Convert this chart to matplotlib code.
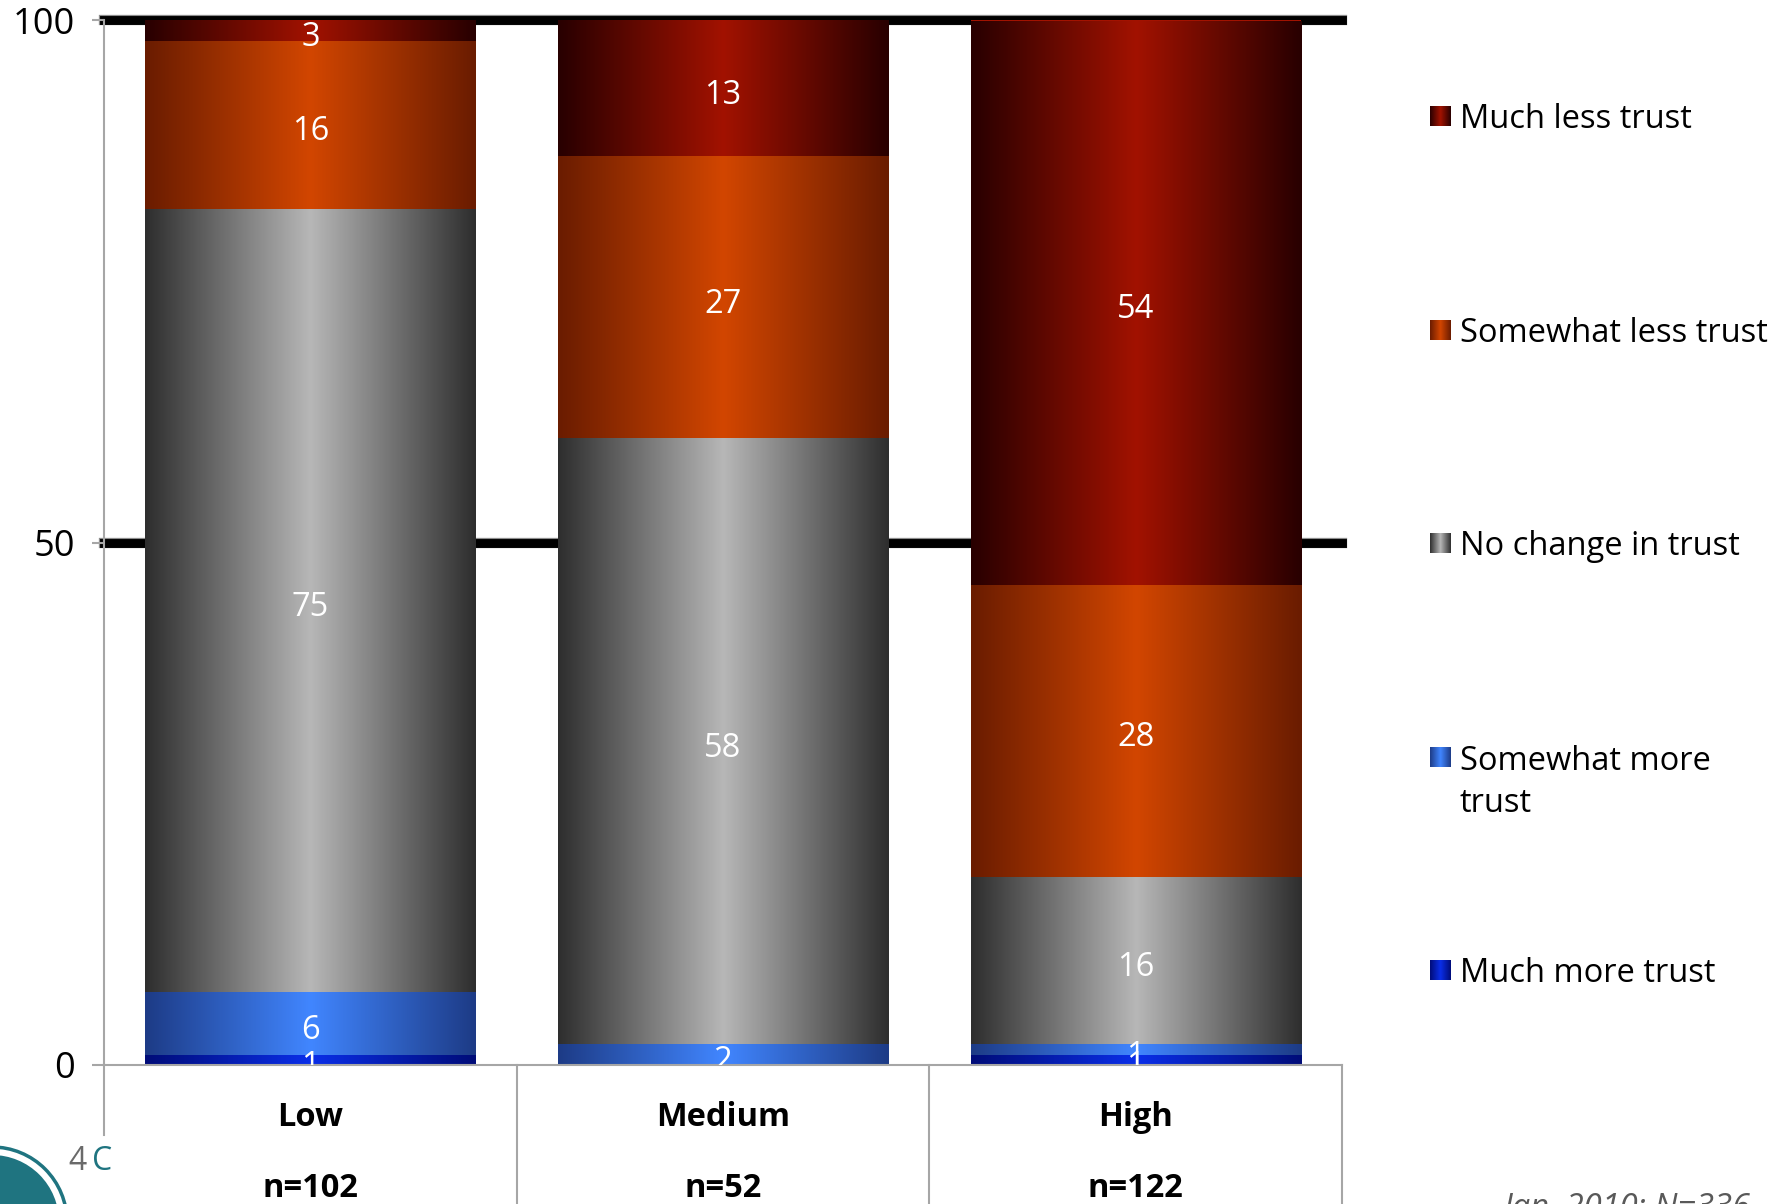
import numpy as np
import matplotlib.pyplot as plt
from matplotlib.colors import LinearSegmentedColormap
from matplotlib.patches import Circle

plt.rcParams['font.family'] = ['Open Sans', 'DejaVu Sans']

categories = ['Low', 'Medium', 'High']
sample_sizes = ['n=102', 'n=52', 'n=122']
series = ['Much more trust', 'Somewhat more trust', 'No change in trust',
          'Somewhat less trust', 'Much less trust']
legend_labels = ['Much more trust', 'Somewhat more\ntrust', 'No change in trust',
                 'Somewhat less trust', 'Much less trust']
much_more = [1, 0, 1]
somewhat_more = [6, 2, 1]
no_change = [75, 58, 16]
somewhat_less = [16, 27, 28]
much_less = [3, 13, 54]
values = [much_more, somewhat_more, no_change, somewhat_less, much_less]

edge_colors = ['#000c78', '#1d3b86', '#2e2e2e', '#6a1c00', '#280000']
mid_colors = ['#0a2ee8', '#4186ff', '#b7b7b7', '#d24600', '#a21200']

W, H = 1786, 1204
fig = plt.figure(figsize=(W / 100, H / 100), dpi=100)
ax = fig.add_axes([104 / W, 139 / H, 1238 / W, 1044.5 / H])

grad = np.linspace(0, 1, 256)[None, :]
x = np.arange(len(categories))
bottom = np.zeros(len(categories))

for i, name in enumerate(series):
    vals = np.array(values[i], dtype=float)
    cmap = LinearSegmentedColormap.from_list(name, [edge_colors[i], mid_colors[i], edge_colors[i]])
    bars = ax.bar(x, vals, 0.8, bottom=bottom, color=mid_colors[i], linewidth=0, zorder=2)
    for j, p in enumerate(bars.patches):
        if vals[j] <= 0:
            continue
        top = min(bottom[j] + vals[j], 100)
        im = ax.imshow(grad, cmap=cmap, aspect='auto', zorder=2.5,
                       extent=[p.get_x(), p.get_x() + p.get_width(), p.get_y(), top])
        im.set_clip_path(p)
        ax.annotate(f'{int(vals[j])}', (x[j], (bottom[j] + top) / 2),
                    xytext=(0, -5), textcoords='offset points', color='white',
                    ha='center', va='center', fontsize=23.5, zorder=4,
                    annotation_clip=False, clip_on=True)
    bottom += vals

# thick gridlines, drawn behind the bars
for yv in [50, 100]:
    ax.axhline(yv, color='#8c8c8c', lw=7.4, zorder=0.9, clip_on=False)
    ax.axhline(yv, color='black', lw=6.4, zorder=1, clip_on=False)

ax.set_xlim(-0.5, 2.5)
ax.set_ylim(0, 100)
ax.set_yticks([0, 50, 100])
ax.set_xticks([])
for s in ['top', 'right']:
    ax.spines[s].set_visible(False)
for s in ['left', 'bottom']:
    ax.spines[s].set_color('#a6a6a6')
    ax.spines[s].set_linewidth(1.5)
ax.tick_params(axis='y', length=9, width=1.5, color='#a6a6a6', labelsize=26, pad=12)

# category separators and labels
xt = ax.get_xaxis_transform()
for k, b in enumerate(np.arange(-0.5, len(categories))):
    depth = -0.067 if k == 0 else -0.15
    ax.plot([b, b], [0, depth], transform=xt, color='#a6a6a6', lw=1.5, clip_on=False)
for i, cat in enumerate(categories):
    ax.text(i, -0.05, cat, transform=xt, ha='center', va='center',
            fontsize=23.5, fontweight='bold')
    ax.text(i, -0.118, sample_sizes[i], transform=xt, ha='center', va='center',
            fontsize=23.5, fontweight='bold')

# legend drawn by hand so the keys keep the gradient
leg_y = [970, 757, 543, 330, 116]
for i, name in enumerate(series):
    cmap = LinearSegmentedColormap.from_list(name + 'k', [edge_colors[i], mid_colors[i], edge_colors[i]])
    yc = leg_y[i]
    kax = fig.add_axes([1430 / W, (H - yc - 10) / H, 21 / W, 20 / H])
    kax.imshow(grad, cmap=cmap, aspect='auto')
    kax.axis('off')
    for k, line in enumerate(legend_labels[i].split('\n')):
        fig.text(1460 / W, (H - yc - 4 - k * 43) / H, line, va='center', ha='left', fontsize=23.5)

# footnote, cut by the lower edge
fig.text(1503 / W, -13 / H, 'Jan. 2010; N=336', fontsize=23.5, style='italic',
         color='#595959', va='baseline')

# logo in the corner
fig.patches.append(Circle((-8, H - 1222), 75, transform=None, facecolor='none',
                          edgecolor='#1f7480', lw=2.5))
fig.patches.append(Circle((-8, H - 1222), 67, transform=None, facecolor='#1f7480',
                          edgecolor='none'))
fig.text(68 / W, (H - 1162) / H, '4', fontsize=23, color='#6a6a6a', va='center')
fig.text(92 / W, (H - 1162) / H, 'C', fontsize=23, color='#1f7480', va='center')

fig.savefig('out.png', dpi=100)
